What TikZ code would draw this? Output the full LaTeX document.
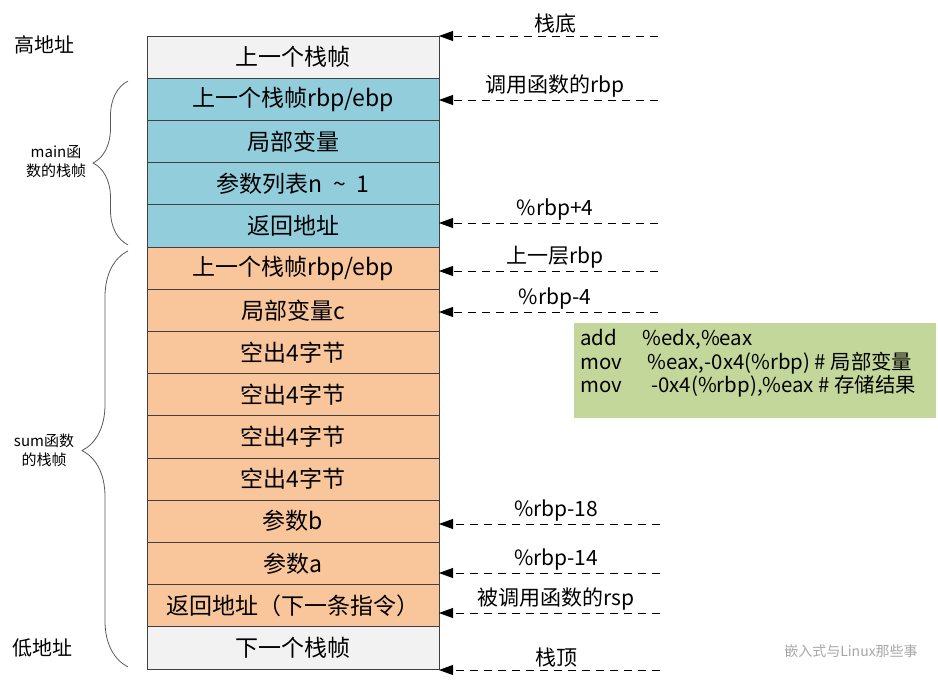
\documentclass[tikz,border=0pt]{standalone}
\usepackage{fontspec}
\setmainfont{Noto Sans CJK SC}
\usepackage{tikz}
\usepackage{xcolor}
\usetikzlibrary{positioning, arrows.meta, decorations.pathreplacing}
\definecolor{frame-gray}{HTML}{F2F2F2}
\definecolor{main-blue}{HTML}{92CDDC}
\definecolor{sum-orange}{HTML}{F9C59B}
\definecolor{code-green}{HTML}{C4D79B}
\definecolor{mark-gray}{HTML}{A6A6A6}
\tikzset{
    stack-cell/.style = {draw=black!75, thin, rectangle, minimum width=146pt, minimum height=21.1pt, inner sep=0pt, outer sep=0pt, font=\fontsize{11.5}{14}\selectfont},
    frame-cell/.style = {stack-cell, fill=frame-gray},
    main-cell/.style = {stack-cell, fill=main-blue},
    sum-cell/.style = {stack-cell, fill=sum-orange},
    ptr-arrow/.style = {thin, dash pattern=on 4pt off 3pt, -{Triangle[length=7pt, width=5pt]}},
    ptr-label/.style = {above, inner sep=1pt, pos=0.47, font=\fontsize{10.5}{12}\selectfont},
    side-label/.style = {font=\fontsize{10}{12}\selectfont},
    brace-label/.style = {align=center, font=\fontsize{7.5}{9.5}\selectfont},
    frame-brace/.style = {draw=black!65, thin, decorate},
    code-box/.style = {fill=code-green, rectangle, inner sep=3pt, anchor=north west, font=\fontsize{10.2}{11.8}\selectfont},
    mark-label/.style = {text=mark-gray, font=\fontsize{7}{8}\selectfont},
}

\begin{document}
\begin{tikzpicture}[x=0.5pt, y=-0.5pt]
\useasboundingbox (0,0) rectangle (938,680);
\node [frame-cell] (top-frame) at (293,57) {上一个栈帧};
\node [main-cell, below=0pt of top-frame] (main-rbp) {上一个栈帧rbp/ebp};
\node [main-cell, below=0pt of main-rbp] (main-local) {局部变量};
\node [main-cell, below=0pt of main-local] (main-args) {参数列表n\ \ \textasciitilde\ \ 1};
\node [main-cell, below=0pt of main-args] (main-ret) {返回地址};
\node [sum-cell, below=0pt of main-ret] (sum-rbp) {上一个栈帧rbp/ebp};
\node [sum-cell, below=0pt of sum-rbp] (sum-local) {局部变量c};
\node [sum-cell, below=0pt of sum-local] (sum-gap-a) {空出4字节};
\node [sum-cell, below=0pt of sum-gap-a] (sum-gap-b) {空出4字节};
\node [sum-cell, below=0pt of sum-gap-b] (sum-gap-c) {空出4字节};
\node [sum-cell, below=0pt of sum-gap-c] (sum-gap-d) {空出4字节};
\node [sum-cell, below=0pt of sum-gap-d] (sum-b) {参数b};
\node [sum-cell, below=0pt of sum-b] (sum-a) {参数a};
\node [sum-cell, below=0pt of sum-a] (sum-ret) {返回地址（下一条指令）};
\node [frame-cell, below=0pt of sum-ret] (next-frame) {下一个栈帧};

\node [side-label] (high-addr) at (45,45) {高地址};
\node [side-label] (low-addr) at (42,648) {低地址};

\draw [frame-brace, decoration={brace, amplitude=17.5pt}] ([xshift=-9.5pt, yshift=1pt]main-ret.south west) -- ([xshift=-9.5pt, yshift=-1.5pt]main-rbp.north west);
\draw [frame-brace, decoration={brace, amplitude=23pt, aspect=0.52}] ([xshift=-9.5pt, yshift=1pt]next-frame.south west) -- ([xshift=-9.5pt, yshift=-2pt]sum-rbp.north west);
\node [brace-label] (main-name) at (56,162) {main函\\数的栈帧};
\node [brace-label] (sum-name) at (44,450) {sum函数\\的栈帧};

\coordinate (base-ptr) at (658,36);
\coordinate (caller-ptr) at (658,100);
\coordinate (ret-ptr) at (658,223);
\coordinate (upper-ptr) at (658,271);
\coordinate (local-ptr) at (658,312);
\coordinate (b-ptr) at (660,524);
\coordinate (a-ptr) at (660,573);
\coordinate (callee-ptr) at (660,613);
\coordinate (stack-top-ptr) at (660,670);
\draw [ptr-arrow] (base-ptr) -- (base-ptr -| top-frame.east) node [ptr-label] {栈底};
\draw [ptr-arrow] (caller-ptr) -- (caller-ptr -| main-rbp.east) node [ptr-label] {调用函数的rbp};
\draw [ptr-arrow] (ret-ptr) -- (ret-ptr -| main-ret.east) node [ptr-label] {\%rbp+4};
\draw [ptr-arrow] (upper-ptr) -- (upper-ptr -| sum-rbp.east) node [ptr-label] {上一层rbp};
\draw [ptr-arrow] (local-ptr) -- (local-ptr -| sum-local.east) node [ptr-label] {\%rbp-4};
\draw [ptr-arrow] (b-ptr) -- (b-ptr -| sum-b.east) node [ptr-label] {\%rbp-18};
\draw [ptr-arrow] (a-ptr) -- (a-ptr -| sum-a.east) node [ptr-label] {\%rbp-14};
\draw [ptr-arrow] (callee-ptr) -- (callee-ptr -| sum-ret.east) node [ptr-label] {被调用函数的rsp};
\draw [ptr-arrow] (stack-top-ptr) -- (stack-top-ptr -| next-frame.east) node [ptr-label] {栈顶};

\node [code-box] (code) at (574,323) {\begin{minipage}[t][41.5pt][t]{175pt}
    \makebox[31pt][l]{add}\%edx,\%eax\\
    \makebox[33.5pt][l]{mov}\%eax,-0x4(\%rbp) \# 局部变量\\
    \makebox[35.5pt][l]{mov}-0x4(\%rbp),\%eax \# 存储结果
\end{minipage}};

\node [mark-label] (mark) at (851,651) {嵌入式与Linux那些事};
\end{tikzpicture}
\end{document}
